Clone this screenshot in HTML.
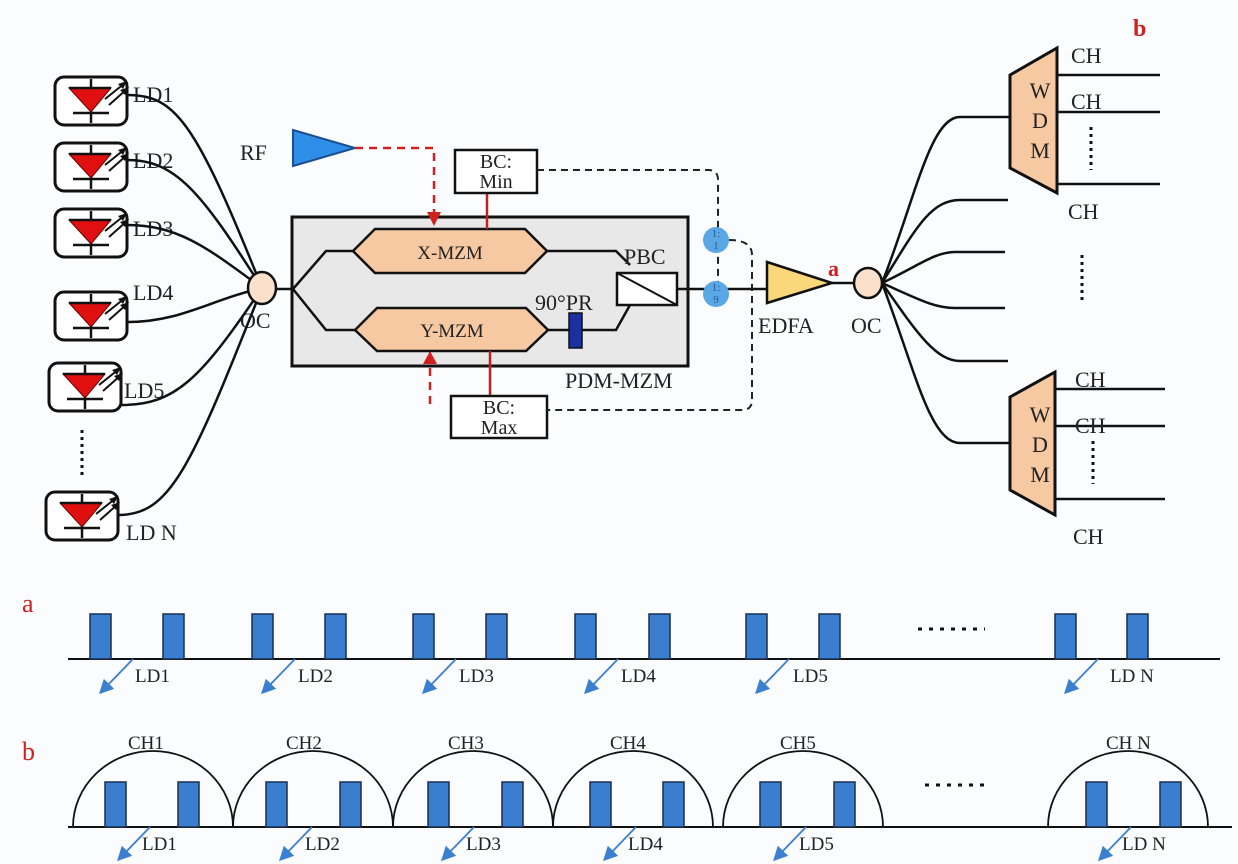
<!DOCTYPE html>
<html><head><meta charset="utf-8"><style>
body{margin:0;background:#fbfcfd;}
svg{display:block;font-family:"Liberation Serif",serif;}
</style></head><body>
<svg width="1238" height="864" viewBox="0 0 1238 864" xmlns="http://www.w3.org/2000/svg">
<defs>
<g id="ld">
<rect x="0" y="0" width="72" height="48" rx="9" fill="#fff" stroke="#111" stroke-width="3"/>
<line x1="36" y1="2" x2="36" y2="46" stroke="#111" stroke-width="2.5"/>
<polygon points="14,11 56,11 36,35" fill="#e01010" stroke="#600" stroke-width="1"/>
<line x1="14" y1="11" x2="56" y2="11" stroke="#111" stroke-width="2.5"/>
<line x1="18" y1="36" x2="54" y2="36" stroke="#111" stroke-width="2.5"/>
<line x1="50" y1="22" x2="70" y2="6" stroke="#111" stroke-width="2"/>
<line x1="54" y1="28" x2="72" y2="12" stroke="#111" stroke-width="2"/>
<polygon points="72,4 63,7 68,12" fill="#111"/>
<polygon points="74,10 65,13 70,18" fill="#111"/>
</g>
<marker id="ba" markerWidth="8" markerHeight="8" refX="4" refY="4" orient="auto"><path d="M0,0 L8,4 L0,8 z" fill="#3a7fd0"/></marker>
</defs>

<use href="#ld" x="55" y="77"/>
<use href="#ld" x="55" y="143"/>
<use href="#ld" x="55" y="209"/>
<use href="#ld" x="55" y="292"/>
<use href="#ld" x="49" y="363"/>
<use href="#ld" x="46" y="492"/>
<g font-size="22" fill="#222">
<text x="133" y="102">LD1</text>
<text x="133" y="168">LD2</text>
<text x="133" y="236">LD3</text>
<text x="133" y="300">LD4</text>
<text x="124" y="398">LD5</text>
<text x="126" y="540">LD N</text>
<text x="240" y="328">OC</text>
<text x="240" y="160">RF</text>
</g>
<g fill="none" stroke="#111" stroke-width="2.5">
<path d="M127,95 C175,95 195,120 262,288"/>
<path d="M127,160 C175,160 200,190 262,288"/>
<path d="M127,225 C180,225 210,250 262,288"/>
<path d="M128,322 C180,322 210,300 262,288"/>
<path d="M121,405 C175,405 200,380 262,288"/>
<path d="M118,515 C170,515 190,470 262,288"/>
</g>
<line x1="82" y1="430" x2="82" y2="475" stroke="#111" stroke-width="3" stroke-dasharray="3,4"/>
<ellipse cx="262" cy="288" rx="14" ry="16" fill="#fbe1cc" stroke="#111" stroke-width="2.5"/>
<line x1="276" y1="289" x2="293" y2="289" stroke="#111" stroke-width="2.5"/>

<polygon points="293,130 355,148 293,166" fill="#2f8fe8" stroke="#1a4f90" stroke-width="2"/>
<path d="M355,148 H434 V212" fill="none" stroke="#d02020" stroke-width="2.5" stroke-dasharray="8,6"/>
<path d="M430,404 V362" fill="none" stroke="#d02020" stroke-width="2.5" stroke-dasharray="8,6"/>

<rect x="292" y="217" width="396" height="149" fill="#e8e8e8" stroke="#111" stroke-width="3"/>
<polygon points="427,212 441,212 434,226" fill="#d02020"/>
<polygon points="423,364 437,364 430,351" fill="#d02020"/>
<g fill="none" stroke="#111" stroke-width="2.5">
<path d="M293,289 L326,251 H355"/>
<path d="M293,289 L326,330 H357"/>
<path d="M547,251 H616 L630,265"/>
<path d="M548,330 H569"/>
<path d="M582,330 H616 L630,305"/>
<line x1="677" y1="289" x2="767" y2="289"/>
</g>
<polygon points="353,251 375,229 525,229 547,251 525,273 375,273" fill="#f7c9a3" stroke="#111" stroke-width="2.5"/>
<polygon points="355,330 377,308 526,308 548,330 526,351 377,351" fill="#f7c9a3" stroke="#111" stroke-width="2.5"/>
<text x="450" y="259" font-size="19" text-anchor="middle" fill="#222">X-MZM</text>
<text x="452" y="337" font-size="19" text-anchor="middle" fill="#222">Y-MZM</text>
<rect x="617" y="273" width="60" height="32" fill="#fff" stroke="#111" stroke-width="2.5"/>
<line x1="617" y1="273" x2="677" y2="305" stroke="#111" stroke-width="2"/>
<text x="624" y="264" font-size="22" fill="#222">PBC</text>
<text x="535" y="310" font-size="22" fill="#222">90°PR</text>
<rect x="569" y="313" width="13" height="35" fill="#1a2fa0" stroke="#111" stroke-width="1.5"/>
<text x="565" y="388" font-size="22" fill="#222">PDM-MZM</text>

<line x1="487" y1="193" x2="487" y2="229" stroke="#c02020" stroke-width="2.5"/>
<line x1="490" y1="351" x2="490" y2="396" stroke="#c02020" stroke-width="2.5"/>
<rect x="455" y="150" width="82" height="43" fill="#fff" stroke="#111" stroke-width="2.5"/>
<text x="496" y="168" font-size="20" text-anchor="middle" fill="#222">BC:</text>
<text x="496" y="188" font-size="20" text-anchor="middle" fill="#222">Min</text>
<rect x="451" y="396" width="96" height="42" fill="#fff" stroke="#111" stroke-width="2.5"/>
<text x="499" y="414" font-size="20" text-anchor="middle" fill="#222">BC:</text>
<text x="499" y="434" font-size="20" text-anchor="middle" fill="#222">Max</text>
<g fill="none" stroke="#222" stroke-width="2" stroke-dasharray="7,5">
<path d="M537,170 H708 Q718,170 718,180 V290"/>
<path d="M729,240 Q752,240 752,255 V400 Q752,410 742,410 H547"/>
</g>
<circle cx="716" cy="240" r="13" fill="#5aa7e6"/>
<circle cx="716" cy="294" r="13" fill="#5aa7e6"/>
<text x="716" y="237" font-size="11" text-anchor="middle" fill="#2a5a90">1:</text>
<text x="716" y="249" font-size="11" text-anchor="middle" fill="#2a5a90">1</text>
<text x="716" y="291" font-size="11" text-anchor="middle" fill="#2a5a90">1:</text>
<text x="716" y="303" font-size="11" text-anchor="middle" fill="#2a5a90">9</text>

<polygon points="767,262 832,283 767,303" fill="#f9d77a" stroke="#111" stroke-width="2.5"/>
<line x1="832" y1="283" x2="854" y2="283" stroke="#111" stroke-width="2.5"/>
<text x="758" y="333" font-size="22" fill="#222">EDFA</text>
<text x="851" y="333" font-size="22" fill="#222">OC</text>
<text x="828" y="276" font-size="22" fill="#d02020" font-weight="bold">a</text>
<text x="1133" y="36" font-size="24" fill="#d02020" font-weight="bold">b</text>
<g fill="none" stroke="#111" stroke-width="2.5">
<path d="M882,283 C915,200 930,117 960,117 H1010"/>
<path d="M882,283 C915,230 930,200 960,200 H1008"/>
<path d="M882,283 C920,265 935,252 955,252 H1005"/>
<path d="M882,283 C920,300 935,308 955,308 H1005"/>
<path d="M882,283 C915,330 935,361 960,361 H1008"/>
<path d="M882,283 C915,370 930,443 960,443 H1010"/>
</g>
<ellipse cx="868" cy="283" rx="14" ry="15" fill="#fbe1cc" stroke="#111" stroke-width="2.5"/>
<line x1="1082" y1="255" x2="1082" y2="300" stroke="#111" stroke-width="3" stroke-dasharray="3,4"/>

<polygon points="1010,75 1057,48 1057,193 1010,168" fill="#f7c9a3" stroke="#111" stroke-width="3"/>
<polygon points="1010,397 1055,372 1055,515 1010,490" fill="#f7c9a3" stroke="#111" stroke-width="3"/>
<g font-size="22" fill="#222" text-anchor="middle">
<text x="1040" y="98">W</text><text x="1040" y="128">D</text><text x="1040" y="158">M</text>
<text x="1040" y="422">W</text><text x="1040" y="452">D</text><text x="1040" y="482">M</text>
</g>
<g stroke="#111" stroke-width="2.5">
<line x1="1057" y1="75" x2="1160" y2="75"/>
<line x1="1057" y1="112" x2="1160" y2="112"/>
<line x1="1057" y1="184" x2="1160" y2="184"/>
<line x1="1055" y1="389" x2="1165" y2="389"/>
<line x1="1055" y1="426" x2="1165" y2="426"/>
<line x1="1055" y1="499" x2="1165" y2="499"/>
</g>
<line x1="1091" y1="127" x2="1091" y2="170" stroke="#111" stroke-width="3" stroke-dasharray="3,4"/>
<line x1="1093" y1="441" x2="1093" y2="484" stroke="#111" stroke-width="3" stroke-dasharray="3,4"/>
<g font-size="22" fill="#222">
<text x="1071" y="63">CH</text><text x="1071" y="109">CH</text><text x="1068" y="219">CH</text>
<text x="1075" y="387">CH</text><text x="1075" y="433">CH</text><text x="1073" y="544">CH</text>
</g>

<text x="22" y="612" font-size="26" fill="#d02020">a</text>
<line x1="68" y1="659" x2="1220" y2="659" stroke="#111" stroke-width="2"/>
<g fill="#3a7fcf" stroke="#1a2f50" stroke-width="1.5">
<rect x="90" y="614" width="21" height="45"/><rect x="163" y="614" width="21" height="45"/>
<rect x="252" y="614" width="21" height="45"/><rect x="325" y="614" width="21" height="45"/>
<rect x="413" y="614" width="21" height="45"/><rect x="486" y="614" width="21" height="45"/>
<rect x="575" y="614" width="21" height="45"/><rect x="649" y="614" width="21" height="45"/>
<rect x="746" y="614" width="21" height="45"/><rect x="819" y="614" width="21" height="45"/>
<rect x="1055" y="614" width="21" height="45"/><rect x="1127" y="614" width="21" height="45"/>
</g>
<g stroke="#3a7fd0" stroke-width="1.8" marker-end="url(#ba)">
<line x1="133" y1="659" x2="104" y2="689"/>
<line x1="295" y1="659" x2="266" y2="689"/>
<line x1="456" y1="659" x2="427" y2="689"/>
<line x1="618" y1="659" x2="589" y2="689"/>
<line x1="789" y1="659" x2="760" y2="689"/>
<line x1="1098" y1="659" x2="1069" y2="689"/>
</g>
<g font-size="19" fill="#222">
<text x="135" y="682">LD1</text><text x="298" y="682">LD2</text><text x="459" y="682">LD3</text>
<text x="621" y="682">LD4</text><text x="793" y="682">LD5</text><text x="1110" y="682">LD N</text>
</g>
<line x1="918" y1="629" x2="985" y2="629" stroke="#111" stroke-width="3" stroke-dasharray="4,7"/>

<text x="22" y="760" font-size="26" fill="#d02020">b</text>
<line x1="68" y1="827" x2="1232" y2="827" stroke="#111" stroke-width="2"/>
<g fill="none" stroke="#111" stroke-width="1.8">
<path d="M73,827 A80,76 0 0 1 233,827"/>
<path d="M233,827 A80,76 0 0 1 393,827"/>
<path d="M393,827 A80,76 0 0 1 553,827"/>
<path d="M553,827 A80,76 0 0 1 713,827"/>
<path d="M723,827 A80,76 0 0 1 883,827"/>
<path d="M1048,827 A80,76 0 0 1 1208,827"/>
</g>
<g fill="#3a7fcf" stroke="#1a2f50" stroke-width="1.5">
<rect x="105" y="782" width="21" height="45"/><rect x="178" y="782" width="21" height="45"/>
<rect x="266" y="782" width="21" height="45"/><rect x="340" y="782" width="21" height="45"/>
<rect x="428" y="782" width="21" height="45"/><rect x="502" y="782" width="21" height="45"/>
<rect x="590" y="782" width="21" height="45"/><rect x="663" y="782" width="21" height="45"/>
<rect x="760" y="782" width="21" height="45"/><rect x="834" y="782" width="21" height="45"/>
<rect x="1086" y="782" width="21" height="45"/><rect x="1160" y="782" width="21" height="45"/>
</g>
<g stroke="#3a7fd0" stroke-width="1.8" marker-end="url(#ba)">
<line x1="150" y1="827" x2="122" y2="856"/>
<line x1="312" y1="827" x2="284" y2="856"/>
<line x1="474" y1="827" x2="446" y2="856"/>
<line x1="636" y1="827" x2="608" y2="856"/>
<line x1="806" y1="827" x2="778" y2="856"/>
<line x1="1131" y1="827" x2="1103" y2="856"/>
</g>
<g font-size="19" fill="#222">
<text x="142" y="850">LD1</text><text x="305" y="850">LD2</text><text x="466" y="850">LD3</text>
<text x="628" y="850">LD4</text><text x="799" y="850">LD5</text><text x="1122" y="850">LD N</text>
<text x="128" y="749">CH1</text><text x="286" y="749">CH2</text><text x="448" y="749">CH3</text>
<text x="610" y="749">CH4</text><text x="780" y="749">CH5</text><text x="1106" y="749">CH N</text>
</g>
<line x1="925" y1="785" x2="990" y2="785" stroke="#111" stroke-width="3" stroke-dasharray="4,7"/>
</svg>
</body></html>
